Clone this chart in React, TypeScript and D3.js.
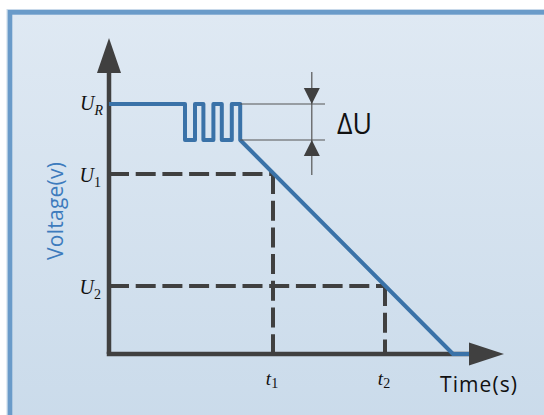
import React from 'react';
import * as d3 from 'd3';

// time axis (arbitrary units) and voltage axis (arbitrary units)
const waveTime = [0, 1.9, 1.9, 2.15, 2.15, 2.36, 2.36, 2.61, 2.61, 2.82, 2.82, 3.07, 3.07, 3.28, 3.28, 8.6, 9.0];
const waveVolt = [10, 10, 8.56, 8.56, 10, 10, 8.56, 8.56, 10, 10, 8.56, 8.56, 10, 10, 8.56, 0, 0];

const refLevel = 10;      // U_R
const rippleLow = 8.56;   // U_R - ΔU
const markerSubs = ['1', '2'];
const markerTimes = [4.1, 6.9];
const markerVolts = [7.2, 2.72];

const xAxisLabel = 'Time(s)';
const yAxisLabel = 'Voltage(v)';
const deltaLabel = 'ΔU';

const W = 544;
const H = 415;

const x = d3.scaleLinear().domain([0, 9]).range([109, 469]);
const y = d3.scaleLinear().domain([0, 10]).range([354, 104]);

const axisColor = '#404040';
const blue = '#3a72a8';
const sans = "'Open Sans', 'Noto Sans', sans-serif";

const App = () => {
  const pts = waveTime.map((t, i) => [t, waveVolt[i]] as [number, number]);
  const line = d3.line<[number, number]>().x(d => x(d[0])).y(d => y(d[1]));

  const x0 = x(0), y0 = y(0);
  const xTip = x(9.875), xBase = x(9.0);
  const yTip = y(12.64), yBase = y(11.24);

  const dTime = 5.07;
  const dx = x(dTime);
  const yR = y(refLevel), yL = y(rippleLow);

  return (
    <svg width={W} height={H} style={{ position: 'absolute', left: 0, top: 0 }}>
      <defs>
        <linearGradient id="bg" x1="0" y1="0" x2="0" y2="1">
          <stop offset="0" stopColor="#dfe9f3" />
          <stop offset="1" stopColor="#c9daea" />
        </linearGradient>
      </defs>
      <rect x={0} y={0} width={W} height={H} fill="#fff" />
      <rect x={9.8} y={12.2} width={W + 20} height={H + 20} fill="url(#bg)" stroke="#6a9bc9" strokeWidth={5} />
      <rect x={7} y={9.5} width={W + 20} height={H + 20} fill="none" stroke="#c8d9ea" strokeWidth={1} />

      {/* dashed guide lines */}
      {markerTimes.map((t, i) => (
        <g key={i} stroke={axisColor} strokeWidth={4} strokeDasharray="20,6.7" fill="none">
          <line x1={x0} y1={y(markerVolts[i])} x2={x(t)} y2={y(markerVolts[i])} />
          <line x1={x(t)} y1={y(markerVolts[i])} x2={x(t)} y2={y0} />
        </g>
      ))}

      {/* axes */}
      <line x1={x0} y1={y0} x2={x0} y2={yBase} stroke={axisColor} strokeWidth={4.5} />
      <line x1={x0 - 2.25} y1={y0} x2={xBase} y2={y0} stroke={axisColor} strokeWidth={4.5} />
      <path d={`M${x0},${yTip}L${x0 - 12},${yBase}L${x0 + 12},${yBase}Z`} fill={axisColor} />
      <path d={`M${xTip},${y0}L${xBase},${y0 - 11.5}L${xBase},${y0 + 11.5}Z`} fill={axisColor} />

      {/* ticks */}
      {markerVolts.map((v, i) => (
        <line key={'yt' + i} x1={x0} x2={x0 + 6} y1={y(v)} y2={y(v)} stroke={axisColor} strokeWidth={4} />
      ))}

      {/* voltage curve */}
      <path d={line(pts) || ''} fill="none" stroke={blue} strokeWidth={4} strokeLinejoin="round" />

      {/* ΔU annotation */}
      <g stroke="#555" strokeWidth={1.2}>
        <line x1={x(3.28)} x2={x(5.4)} y1={yR} y2={yR} />
        <line x1={x(3.28)} x2={x(5.4)} y1={yL} y2={yL} />
        <line x1={dx} x2={dx} y1={y(11.28)} y2={y(7.16)} />
      </g>
      <path d={`M${dx},${yR}L${dx - 8},${yR - 16}L${dx + 8},${yR - 16}Z`} fill={axisColor} />
      <path d={`M${dx},${yL}L${dx - 8},${yL + 16}L${dx + 8},${yL + 16}Z`} fill={axisColor} />
      <text x={337} y={134} fontFamily={sans} fontSize={29} fill="#111" textLength={35} lengthAdjust="spacingAndGlyphs">{deltaLabel}</text>

      {/* level labels */}
      <text x={x0 - 6} y={yR + 6} textAnchor="end" fontFamily="'Liberation Serif', serif" fill="#111">
        <tspan fontSize={20} fontStyle="italic">U</tspan>
        <tspan fontSize={14} fontStyle="italic" dy={5}>R</tspan>
      </text>
      {markerVolts.map((v, i) => (
        <text key={'yl' + i} x={x0 - 8} y={y(v) + 8} textAnchor="end" fontFamily="'Liberation Serif', serif" fill="#111">
          <tspan fontSize={20} fontStyle="italic">U</tspan>
          <tspan fontSize={14} dy={5}>{markerSubs[i]}</tspan>
        </text>
      ))}
      {markerTimes.map((t, i) => (
        <text key={'xl' + i} x={x(t) - 1} y={385} textAnchor="middle" fontFamily="'Liberation Serif', serif" fill="#111">
          <tspan fontSize={19} fontStyle="italic">t</tspan>
          <tspan fontSize={14} dy={3}>{markerSubs[i]}</tspan>
        </text>
      ))}

      {/* axis titles */}
      <text x={440} y={392} fontFamily={sans} fontSize={21} fill="#111" textLength={77} lengthAdjust="spacing">{xAxisLabel}</text>
      <text transform="translate(63,211) rotate(-90)" textAnchor="middle" fontFamily={sans} fontSize={21} fill="#3d7bbd" textLength={98} lengthAdjust="spacing">{yAxisLabel}</text>
    </svg>
  );
};

export default App;
